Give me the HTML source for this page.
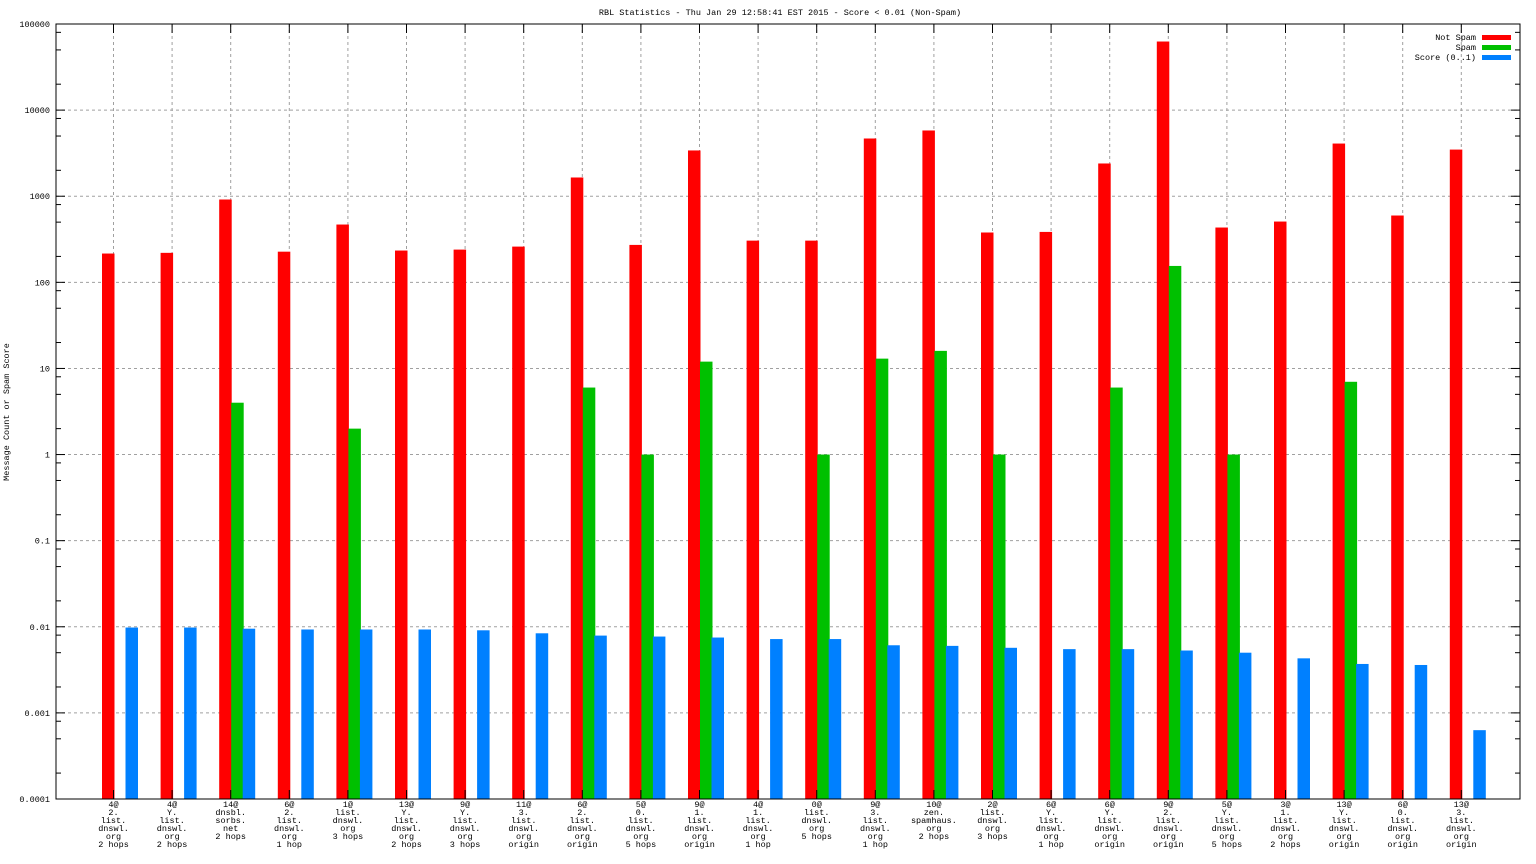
<!DOCTYPE html>
<html><head><meta charset="utf-8"><style>
html,body{margin:0;padding:0;background:#fff;}
svg{display:block;font-family:"Liberation Mono","DejaVu Sans Mono",monospace;}
</style></head><body>
<svg id="chart" width="1536" height="864" viewBox="0 0 1536 864" xmlns="http://www.w3.org/2000/svg">
<rect width="1536" height="864" fill="#fff"/>
<text x="780" y="15" font-size="8.5" text-anchor="middle">RBL Statistics - Thu Jan 29 12:58:41 EST 2015 - Score &lt; 0.01 (Non-Spam)</text>
<text transform="translate(9,412) rotate(-90)" font-size="8.5" text-anchor="middle">Message Count or Spam Score</text>
<g id="grid"></g><g id="bars"></g><g id="axes"></g><g id="labels"></g>
<g>
<text x="1476" y="40" font-size="8.5" text-anchor="end">Not Spam</text><rect x="1482" y="35" width="29" height="5" fill="#ff0000"/>
<text x="1476" y="50" font-size="8.5" text-anchor="end">Spam</text><rect x="1482" y="45" width="29" height="5" fill="#00c000"/>
<text x="1476" y="60" font-size="8.5" text-anchor="end">Score (0..1)</text><rect x="1482" y="55" width="29" height="5" fill="#0080ff"/>
</g>
</svg>
<script>
const categories = [
"4@|2.|list.|dnswl.|org|2 hops","4@|Y.|list.|dnswl.|org|2 hops","14@|dnsbl.|sorbs.|net|2 hops","6@|2.|list.|dnswl.|org|1 hop",
"1@|list.|dnswl.|org|3 hops","13@|Y.|list.|dnswl.|org|2 hops","9@|Y.|list.|dnswl.|org|3 hops","11@|3.|list.|dnswl.|org|origin",
"6@|2.|list.|dnswl.|org|origin","5@|0.|list.|dnswl.|org|5 hops","9@|1.|list.|dnswl.|org|origin","4@|1.|list.|dnswl.|org|1 hop",
"0@|list.|dnswl.|org|5 hops","9@|3.|list.|dnswl.|org|1 hop","10@|zen.|spamhaus.|org|2 hops","2@|list.|dnswl.|org|3 hops",
"6@|Y.|list.|dnswl.|org|1 hop","6@|Y.|list.|dnswl.|org|origin","9@|2.|list.|dnswl.|org|origin","5@|Y.|list.|dnswl.|org|5 hops",
"3@|1.|list.|dnswl.|org|2 hops","13@|Y.|list.|dnswl.|org|origin","6@|0.|list.|dnswl.|org|origin","13@|3.|list.|dnswl.|org|origin"];
const notSpam = [216,220,916,227,469,234,240,260,1650,272,3400,305,305,4680,5800,379,385,2400,62600,433,508,4090,597,3480];
const spam = [0,0,4,0,2,0,0,0,6,1,12,0,1,13,16,1,0,6,155,1,0,7,0,0];
const score = [0.0098,0.0098,0.0095,0.0093,0.0093,0.0093,0.0091,0.0084,0.0079,0.0077,0.0075,0.0072,0.0072,0.0061,0.006,0.0057,0.0055,0.0055,0.0053,0.005,0.0043,0.0037,0.0036,0.00063];
const yTicks = ["0.0001","0.001","0.01","0.1","1","10","100","1000","10000","100000"];

const NS="http://www.w3.org/2000/svg";
const L=56,R=1520,T=24,B=799;
function y(v){return B-(Math.log10(v)+4)/9*(B-T);}
function xg(i){return 102+58.6*i;}
function mk(tag,attrs,parent){const e=document.createElementNS(NS,tag);for(const k in attrs)e.setAttribute(k,attrs[k]);parent.appendChild(e);return e;}
const grid=document.getElementById('grid'),bars=document.getElementById('bars'),axes=document.getElementById('axes'),labels=document.getElementById('labels');
yTicks.forEach((t,k)=>{
  const v=parseFloat(t),yy=y(v);
  if(k>0&&k<yTicks.length-1){const g=mk('line',{x1:L,x2:R,y1:yy,y2:yy,stroke:'#a0a0a0','stroke-dasharray':'3,3'},grid);
  
  }
  const tx=mk('text',{x:50,y:yy+3,'font-size':8.5,'text-anchor':'end'},labels);tx.textContent=t;
  
  
  mk('line',{x1:L,x2:L+9,y1:yy,y2:yy,stroke:'#000'},axes);
  mk('line',{x1:R,x2:R-9,y1:yy,y2:yy,stroke:'#000'},axes);
  if(k<yTicks.length-1){[2,5,8].forEach(m=>{const my=y(v*m);
    mk('line',{x1:L,x2:L+5,y1:my,y2:my,stroke:'#000'},axes);
    mk('line',{x1:R,x2:R-5,y1:my,y2:my,stroke:'#000'},axes);});}
});
const offs=[0,12,23.5];
categories.forEach((c,i)=>{
  const x0=xg(i),cx=x0+11.5;
  const g=mk('line',{x1:cx,x2:cx,y1:T,y2:B,stroke:'#a0a0a0','stroke-dasharray':'3,3'},grid);
  
  
  mk('line',{x1:cx,x2:cx,y1:B,y2:B-9,stroke:'#000'},axes);
  mk('line',{x1:cx,x2:cx,y1:T,y2:T+9,stroke:'#000'},axes);
  [[notSpam,'#ff0000','bar-not-spam',0],[spam,'#00c000','bar-spam',1],[score,'#0080ff','bar-score',2]].forEach(([arr,col,nm,j])=>{
    const v=arr[i]; if(!(v>0))return;
    const yy=y(v);
    const r=mk('rect',{x:x0+offs[j],y:yy,width:12.5,height:B-yy,fill:col},bars);
    
    
  });
  const t=mk('text',{x:cx,y:807,'font-size':8.5,'text-anchor':'middle'},labels);
  
  
  c.split('|').forEach((ln,k)=>{const s=mk('tspan',{x:cx,dy:k?8:0},t);s.textContent=ln;});
});
mk('rect',{x:L,y:T,width:R-L,height:B-T,fill:'none',stroke:'#000','stroke-width':1},axes);
</script>
</body></html>
